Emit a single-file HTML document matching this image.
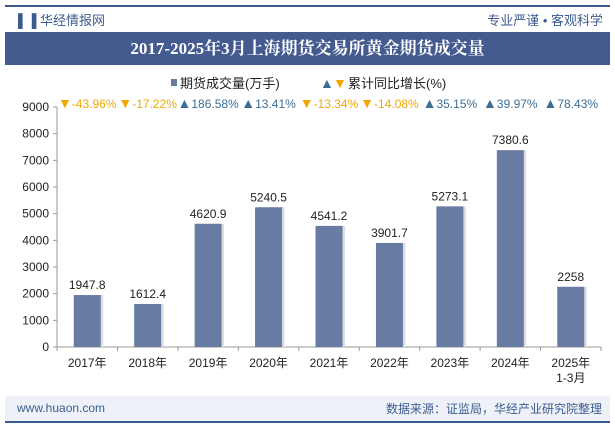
<!DOCTYPE html>
<html><head><meta charset="utf-8"><style>
body{margin:0;width:615px;height:427px;background:#fff;font-family:"Liberation Sans","Noto Sans CJK SC",sans-serif;overflow:hidden;position:relative}
</style></head><body>
<div style="position:absolute;left:5px;top:5px;width:605px;height:2px;background:#3d5a8e"></div>
<div style="position:absolute;left:18px;top:10px;font-size:13px;color:#3d5a8e">▌▐ 华经情报网</div>
<div style="position:absolute;right:12px;top:10px;font-size:13px;color:#3d5a8e">专业严谨 • 客观科学</div>
<div style="position:absolute;left:5px;top:32px;width:605px;height:33px;background:#435b8f;color:#fff;font:bold 17px 'Liberation Serif','Noto Serif CJK SC',serif;text-align:center;line-height:33px">2017-2025年3月上海期货交易所黄金期货成交量</div>
<svg id="c" width="615" height="427" style="position:absolute;left:0;top:0"></svg>
<div style="position:absolute;left:5px;top:396px;width:605px;height:25px;background:#eef2f8"></div>
<div style="position:absolute;left:17px;top:401px;font-size:12px;color:#3d5a8e">www.huaon.com</div>
<div style="position:absolute;right:13px;top:400px;font-size:12px;color:#3d5a8e">数据来源：证监局，华经产业研究院整理</div>
<div style="position:absolute;left:5px;top:421px;width:605px;height:2px;background:#3d5a8e"></div>
<script>
const categories=["2017年","2018年","2019年","2020年","2021年","2022年","2023年","2024年","2025年"];
const values=[1947.8,1612.4,4620.9,5240.5,4541.2,3901.7,5273.1,7380.6,2258];
const growth=[-43.96,-17.22,186.58,13.41,-13.34,-14.08,35.15,39.97,78.43];
const yTicks=[0,1000,2000,3000,4000,5000,6000,7000,8000,9000];
const svg=document.getElementById('c');const NS='http://www.w3.org/2000/svg';
const x0=57,x1=601,y0=347,y1=107,yMax=9000;
const bw=(x1-x0)/categories.length;
const y=v=>y0-(v/yMax)*(y0-y1);
const cx=i=>x0+bw*(i+0.5);
function mk(t,a,txt){const e=document.createElementNS(NS,t);for(const k in a)e.setAttribute(k,a[k]);if(txt!==undefined)e.textContent=txt;svg.appendChild(e);return e;}
let e=mk('line',{x1:x0,y1:y0,x2:x1,y2:y0,stroke:'#999'});

e=mk('line',{x1:x0,y1:y0,x2:x0,y2:y1,stroke:'#999'});

yTicks.forEach(t=>{
 mk('line',{x1:x0-4,y1:y(t),x2:x0,y2:y(t),stroke:'#999'});
 e=mk('text',{x:x0-8,y:y(t)+4,'text-anchor':'end','font-size':12,fill:'#222'},t);
 
});
for(let i=0;i<=categories.length;i++)mk('line',{x1:x0+bw*i,y1:y0,x2:x0+bw*i,y2:y0+4,stroke:'#999'});
values.forEach((v,i)=>{
 mk('rect',{x:cx(i)-11,y:y(v),width:27,height:y0-y(v),fill:'#ddd'});
 e=mk('rect',{x:cx(i)-13.5,y:y(v),width:27,height:y0-y(v),fill:'#687ba3'});
 
 e=mk('text',{x:cx(i),y:y(v)-6,'text-anchor':'middle','font-size':12,fill:'#222'},v);
 
 e=mk('text',{x:cx(i),y:y0+20,'text-anchor':'middle','font-size':12,fill:'#222'},categories[i]);
 
 const g=growth[i];
 e=mk('text',{x:cx(i),y:108,'text-anchor':'middle','font-size':12,fill:g<0?'#f0a800':'#3a6e96'});
 
 const ts=document.createElementNS(NS,'tspan');ts.setAttribute('font-size','14');ts.textContent=g<0?'▼':'▲';e.appendChild(ts);
 const ts2=document.createElementNS(NS,'tspan');ts2.textContent=g.toFixed(2)+'%';e.appendChild(ts2);
});
e=mk('text',{x:cx(8),y:y0+35,'text-anchor':'middle','font-size':12,fill:'#222'},'1-3月');

e=mk('rect',{x:171,y:79,width:6,height:7,fill:'#687ba3'});

e=mk('text',{x:180,y:88,'font-size':13,fill:'#222'},'期货成交量(万手)');

e=mk('text',{x:320,y:88,'font-size':14,fill:'#3a6e96'},'▲');
e=mk('text',{x:333,y:88,'font-size':14,fill:'#f0a800'},'▼');

e=mk('text',{x:348,y:88,'font-size':13,fill:'#222'},'累计同比增长(%)');

</script>
</body></html>
